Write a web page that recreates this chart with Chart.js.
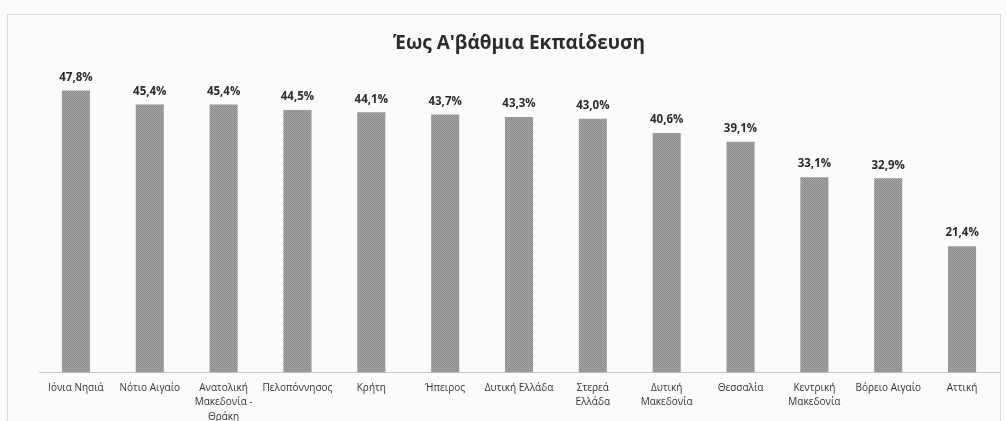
<!DOCTYPE html>
<html>
<head>
<meta charset="utf-8">
<script src="https://cdn.jsdelivr.net/npm/chart.js@4/dist/chart.umd.min.js"></script>
<style>
  html, body { margin: 0; padding: 0; background: #fbfbfa; overflow: hidden; }
  #wrap { width: 1006px; height: 440px; }
</style>
</head>
<body>
<div id="wrap"><canvas id="grafica"></canvas></div>
<script>
// Έως Α'βάθμια Εκπαίδευση - ποσοστά ανά περιφέρεια
var perifereies = [
  'Ιόνια Νησιά',
  'Νότιο Αιγαίο',
  ['Ανατολική', 'Μακεδονία -', 'Θράκη'],
  'Πελοπόννησος',
  'Κρήτη',
  'Ήπειρος',
  'Δυτική Ελλάδα',
  ['Στερεά', 'Ελλάδα'],
  ['Δυτική', 'Μακεδονία'],
  'Θεσσαλία',
  ['Κεντρική', 'Μακεδονία'],
  'Βόρειο Αιγαίο',
  'Αττική'
];
var pososta = [47.8, 45.4, 45.4, 44.5, 44.1, 43.7, 43.3, 43.0, 40.6, 39.1, 33.1, 32.9, 21.4];
var titlos = "Έως Α'βάθμια Εκπαίδευση";

// μοτίβο για το "σκαναρισμένο" γκρι των στηλών
function motivo() {
  var c = document.createElement('canvas');
  c.width = 2; c.height = 2;
  var g = c.getContext('2d');
  g.fillStyle = '#a6a6a6'; g.fillRect(0, 0, 2, 2);
  g.fillStyle = '#8a8a8a'; g.fillRect(0, 0, 1, 1); g.fillRect(1, 1, 1, 1);
  return g.createPattern(c, 'repeat');
}

var etiketes = {
  id: 'etiketes',
  afterDatasetsDraw: function(chart) {
    var ctx = chart.ctx;
    var meta = chart.getDatasetMeta(0);
    ctx.save();
    ctx.font = 'bold 11.5px "Open Sans"';
    ctx.fillStyle = '#2b2b2b';
    ctx.textAlign = 'center';
    ctx.textBaseline = 'middle';
    meta.data.forEach(function(bar, i) {
      ctx.fillText(pososta[i].toFixed(1).replace('.', ',') + '%', bar.x, bar.y - 13);
    });
    ctx.restore();
  }
};

var plaisio = {
  id: 'plaisio',
  beforeDraw: function(chart) {
    var ctx = chart.ctx;
    ctx.save();
    ctx.strokeStyle = '#b5b5b5';
    ctx.lineWidth = 1;
    ctx.setLineDash([1, 1]);
    ctx.strokeRect(7.5, 14.5, 993, 440);
    ctx.restore();
  }
};

var grafica = document.getElementById('grafica').getContext('2d');
var myChart = new Chart(grafica, {
  type: 'bar',
  data: {
    labels: perifereies,
    datasets: [{
      label: titlos,
      data: pososta,
      backgroundColor: motivo(),
      borderWidth: 0,
      categoryPercentage: 1,
      barPercentage: 0.38
    }]
  },
  options: {
    responsive: true,
    maintainAspectRatio: false,
    animation: false,
    layout: { padding: { left: 39, right: 7, bottom: 8, top: 0 } },
    plugins: {
      legend: { display: false },
      tooltip: { enabled: false },
      title: {
        display: true,
        text: titlos,
        color: '#2b2b2b',
        font: { family: '"Open Sans"', size: 19, weight: 'bold' },
        padding: { top: 32, bottom: 25 }
      }
    },
    scales: {
      y: {
        display: false,
        min: 0,
        max: 49.6
      },
      x: {
        grid: { display: false, drawTicks: false },
        border: { display: true, color: '#c8c8c8' },
        ticks: {
          color: '#333',
          padding: 8,
          maxRotation: 0,
          autoSkip: false,
          font: { family: '"Open Sans"', size: 10, lineHeight: 1.45 }
        }
      }
    }
  },
  plugins: [plaisio, etiketes]
});
</script>
</body>
</html>
